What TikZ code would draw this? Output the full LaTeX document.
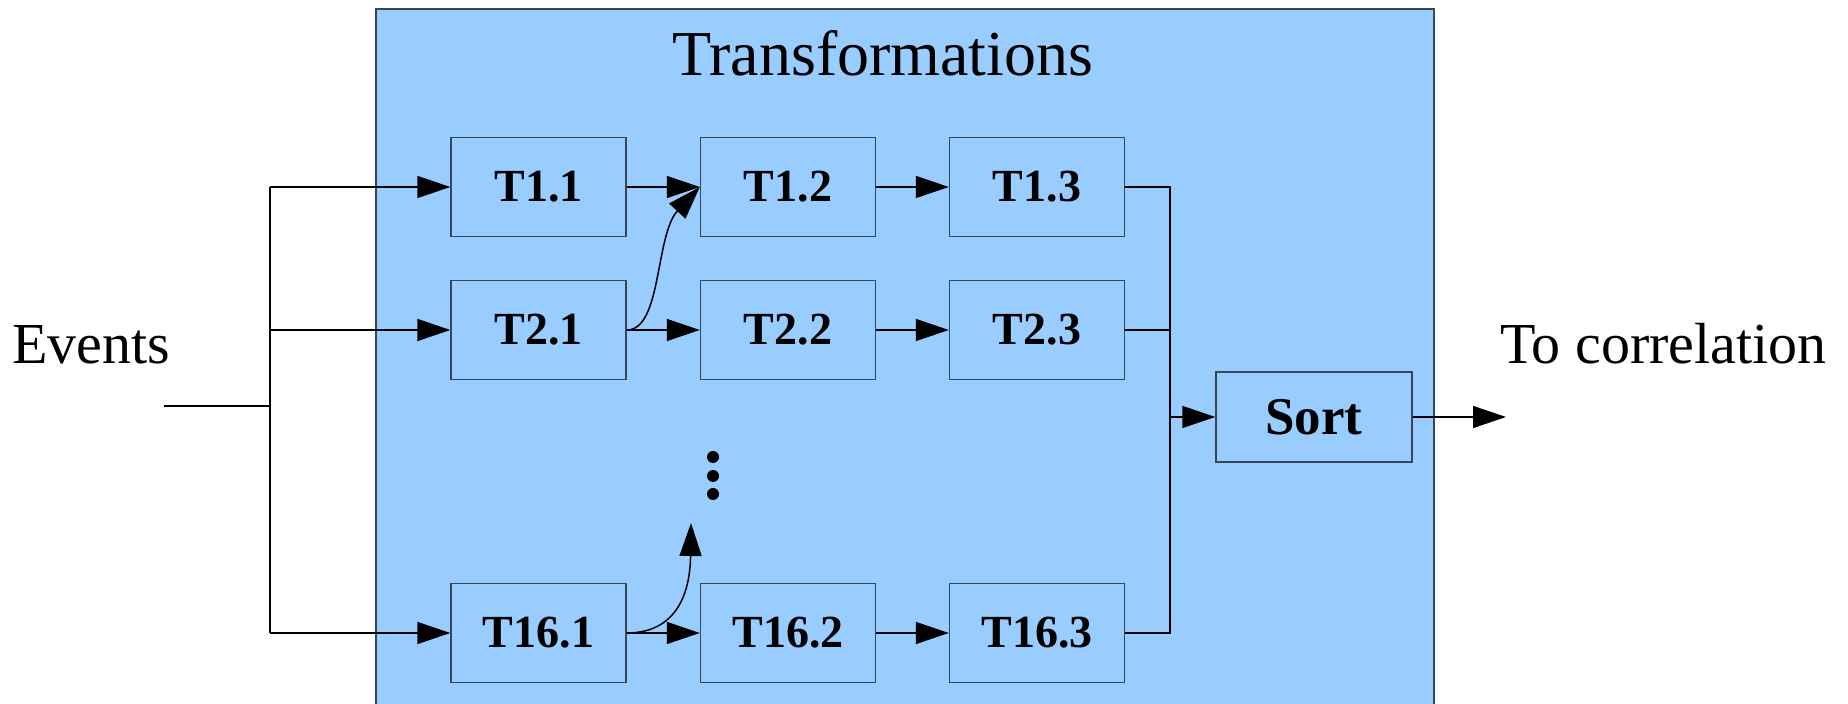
\documentclass[tikz,border=0pt]{standalone}
\usepackage{fontspec}
\setmainfont{Liberation Serif}
\usetikzlibrary{arrows.meta}
\definecolor{panelblue}{HTML}{99CCFF}
\definecolor{edgegray}{HTML}{3A4654}
\begin{document}
\begin{tikzpicture}[x=0.5pt,y=-0.5pt,
  tbox/.style={draw=edgegray,line width=0.7pt,fill=panelblue,minimum width=87.5pt,minimum height=49.5pt,inner sep=0pt,font=\fontsize{23}{26}\selectfont\bfseries},
  sortbox/.style={draw=edgegray,line width=0.7pt,fill=panelblue,minimum width=98pt,minimum height=45pt,inner sep=0pt,font=\fontsize{26.5}{30}\selectfont\bfseries},
  conn/.style={line width=0.75pt,draw=black},
  arr/.style={conn,-{Triangle[length=16.5pt,width=11pt]}},
  bigtext/.style={font=\fontsize{29}{34}\selectfont,inner sep=0pt}
]
\useasboundingbox (0,0) rectangle (1848,704);
% panel
\filldraw[fill=panelblue,draw=edgegray,line width=0.6pt] (376,9) rectangle (1434,720);
\node[font=\fontsize{32}{38}\selectfont,anchor=base,inner sep=0pt] (title) at (883,76) {Transformations};
% boxes
\node[tbox] (T11) at (538.5,187) {T1.1};
\node[tbox] (T12) at (788,187) {T1.2};
\node[tbox] (T13) at (1037,187) {T1.3};
\node[tbox] (T21) at (538.5,330) {T2.1};
\node[tbox] (T22) at (788,330) {T2.2};
\node[tbox] (T23) at (1037,330) {T2.3};
\node[tbox] (T161) at (538.5,633) {T16.1};
\node[tbox] (T162) at (788,633) {T16.2};
\node[tbox] (T163) at (1037,633) {T16.3};
\node[sortbox] (Sort) at (1314,417) {Sort};
% texts
\node[bigtext,anchor=base west] (events) at (12,364) {Events};
\node[bigtext,anchor=base west] (tocorr) at (1500,364) {To correlation};
% dots
\fill (713,457) circle[radius=6];
\fill (713,476) circle[radius=6];
\fill (713,494) circle[radius=6];
% coordinates
\coordinate (inStart) at (164,406);
\coordinate (bus) at (270,406);
\coordinate (busTop) at (270,187);
\coordinate (busBot) at (270,633);
\coordinate (col) at (1170,417);
\coordinate (dotsEnd) at (691,523);
\coordinate (outEnd) at (1506,417);
% input bus
\draw[conn] (inStart) -- (bus);
\draw[conn] (busTop) -- (busBot);
\draw[arr] (busTop) -- (T11.west);
\draw[arr] (bus |- T21.west) -- (T21.west);
\draw[arr] (busBot) -- (T161.west);
% row arrows
\draw[arr] (T11.east) -- (T12.west);
\draw[arr] (T12.east) -- (T13.west);
\draw[arr] (T21.east) -- (T22.west);
\draw[arr] (T22.east) -- (T23.west);
\draw[arr] (T161.east) -- (T162.west);
\draw[arr] (T162.east) -- (T163.west);
% curved arrows
\draw[arr] (T21.east) .. controls (662,330) and (655,235) .. (T12.west);
\draw[arr] (T161.east) .. controls (672,633) and (690,600) .. (dotsEnd);
% collector
\draw[conn] (T13.east) -- (T13.east -| col) -- (T163.east -| col) -- (T163.east);
\draw[conn] (T23.east) -- (T23.east -| col);
\draw[arr] (col) -- (Sort.west);
\draw[arr] (Sort.east) -- (outEnd);
\end{tikzpicture}
\end{document}
